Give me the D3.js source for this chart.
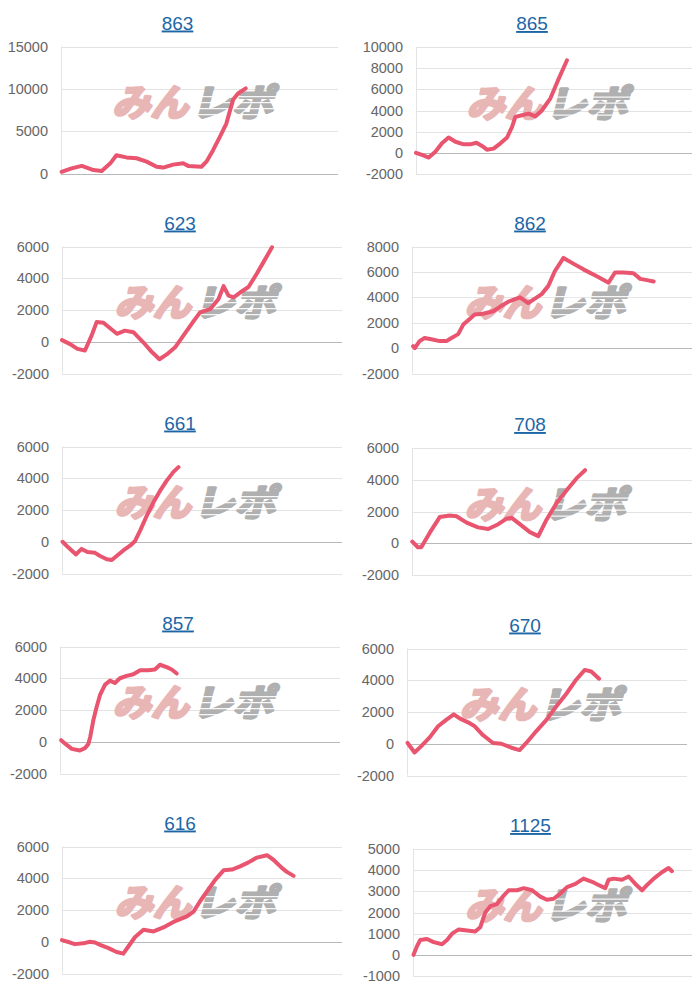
<!DOCTYPE html>
<html>
<head>
<meta charset="utf-8">
<script src="https://cdn.jsdelivr.net/npm/d3@7"></script>
<style>
  html, body { margin: 0; padding: 0; background: #fff; }
  svg { display: block; }
</style>
</head>
<body>
<div id="chart"></div>
<script>
// ---- Data (x = % of the day's slot range, y = difference in medals) ----
const titles = ["863", "865", "623", "862", "661", "708", "857", "670", "616", "1125"];

const s863 = [[0.2,200],[3.8,600],[7.5,900],[10,600],[11.7,400],[14.7,300],[17.8,1200],[20,2150],[23.6,1900],[27.3,1800],[30.9,1400],[34.5,800],[36.9,700],[40.5,1050],[44.1,1200],[45.9,900],[50.7,800],[52.5,1400],[54.9,2750],[57.3,4300],[59.7,5900],[62.1,8700],[63.9,9450],[66.7,10050]];
const s865 = [[0,0],[2.2,-200],[4.6,-450],[7,100],[9.4,900],[11.8,1450],[14.3,1050],[17.3,800],[19.7,800],[21.9,950],[23.9,650],[25.7,300],[28.1,400],[30.6,900],[33,1450],[34.8,2450],[36,3400],[38.4,3550],[40.8,3700],[43.2,3450],[45.6,4000],[48.7,5150],[51.7,7000],[54.7,8750]];
const s623 = [[0,100],[2.9,-150],[5.5,-450],[8.2,-550],[10.6,400],[12.4,1250],[14.8,1200],[17.2,850],[19.6,500],[22.5,700],[25.5,600],[29.1,-50],[32.1,-650],[34.8,-1100],[37.4,-800],[40.4,-350],[43.4,400],[47,1300],[49.3,1850],[52.9,2050],[55.9,2700],[57.7,3500],[59.5,2900],[61.3,2800],[63.6,3100],[66.6,3450],[69.6,4300],[71.9,5000],[75,5950]];
const s862 = [[0.4,150],[1,0],[2.7,550],[4.5,800],[6.9,700],[9.9,550],[12.3,550],[14.1,800],[16.5,1100],[18.3,1850],[20.6,2300],[22.4,2650],[25.4,2700],[29,2900],[31.4,3250],[34.4,3650],[36.8,3850],[38.6,4000],[41.5,3550],[43.9,3900],[46.3,4250],[48.7,4900],[51,6050],[54.1,7100],[57.6,6650],[61.2,6200],[66,5650],[70.2,5150],[72.5,5950],[75.5,5950],[79.1,5900],[81.5,5450],[83.9,5350],[86.3,5250]];
const s661 = [[0.2,0],[2.2,-350],[5,-800],[7,-450],[9.1,-650],[11.8,-700],[13.6,-900],[16,-1100],[17.8,-1150],[19.5,-900],[21.9,-550],[24.3,-250],[26.1,50],[27.9,700],[30.3,1650],[32.7,2500],[35,3200],[37.4,3850],[39.8,4400],[41.6,4700]];
const s708 = [[0.1,100],[2.1,-250],[3.3,-250],[6.3,650],[9.9,1650],[13.5,1750],[15.9,1700],[19.5,1300],[23.6,1000],[27.2,900],[30.8,1200],[33.8,1550],[35.6,1600],[38.5,1200],[42.1,700],[45.1,450],[48.1,1500],[51.7,2550],[55.3,3350],[58.8,4100],[61.8,4600]];
const s857 = [[0.4,100],[2.4,-200],[4.2,-450],[7.1,-550],[8.9,-400],[10.1,-150],[10.8,300],[11.9,1350],[13.1,2200],[14.3,2950],[16.1,3600],[17.9,3850],[19.6,3700],[21.4,4000],[23.8,4150],[26.2,4250],[28.6,4500],[31.5,4500],[33.9,4550],[35.7,4850],[38.1,4700],[39.9,4550],[41.7,4300]];
const s670 = [[0.2,50],[2.7,-550],[5.1,-150],[8.1,400],[11.1,1100],[14,1500],[16.7,1850],[18.8,1600],[21.8,1350],[24.2,1100],[27.1,550],[30.7,50],[33.7,0],[37.3,-250],[40.2,-400],[42.6,50],[46.2,800],[49.8,1500],[53.3,2350],[56.9,3150],[60.5,4050],[63.5,4650],[65.8,4550],[68.6,4100]];
const s616 = [[0,100],[2.9,-50],[4.6,-150],[7.6,-100],[10,0],[11.8,-50],[13.6,-200],[16.6,-400],[19.5,-650],[21.9,-750],[23.7,-300],[26.1,300],[29.1,750],[32.7,650],[36.2,900],[39.8,1250],[44.6,1600],[47,1900],[49.3,2550],[51.7,3150],[54.7,3900],[57.7,4500],[60.7,4550],[63.6,4750],[66.6,5000],[69.6,5300],[73.2,5450],[75.6,5150],[78.5,4650],[80.3,4400],[82.7,4150]];
const s1125 = [[0.2,0],[1.4,400],[2.6,700],[5,750],[7.4,600],[10.4,500],[12.2,700],[14,1000],[16.4,1200],[19.4,1150],[22.3,1100],[24.1,1300],[25.9,2000],[27.7,2300],[30.1,2400],[32.5,2800],[34.3,3050],[37.3,3050],[39.7,3150],[42.7,3050],[45.6,2750],[48,2600],[50.4,2650],[52.8,2900],[55.2,3200],[58.2,3350],[61.1,3600],[64.2,3450],[66.5,3300],[68.9,3150],[70.1,3550],[71.9,3600],[74.9,3550],[77.3,3700],[79.7,3350],[82.1,3050],[83.9,3300],[86.3,3600],[89.2,3900],[91.6,4100],[92.8,3950]];

const seriesList = [s863, s865, s623, s862, s661, s708, s857, s670, s616, s1125];

// Y-axis tick definitions
const yMins  = [0,     -2000, -2000, -2000, -2000, -2000, -2000, -2000, -2000, -1000];
const yMaxs  = [15000, 10000, 6000,  8000,  6000,  6000,  6000,  6000,  6000,  5000];
const ySteps = [5000,  2000,  2000,  2000,  2000,  2000,  2000,  2000,  2000,  1000];

const watermarkLeft = "みん";
const watermarkRight = "レポ";

// ---- Layout ----
const W = 700, H = 1000;
const plotLefts  = [61, 416, 62, 412, 62, 412, 60, 407, 62, 413];
const plotRights = [338, 692, 342, 692, 342, 692, 340, 687, 342, 692];
const rowDy      = [0, 0.5, 0, 0, 0, 1.5, 0, 2, 0, 2.5];

const svg = d3.select("#chart").append("svg")
  .attr("width", W).attr("height", H);

const lineColor = "#e9546f";

titles.forEach((t, i) => {
  const row = Math.floor(i / 2);
  const top = row * 200 + rowDy[i];
  const L = plotLefts[i], R = plotRights[i];
  const yTop = top + 46.5, yBot = top + 173.5;
  const g = svg.append("g");

  const x = d3.scaleLinear().domain([0, 100]).range([L, R]);
  const y = d3.scaleLinear().domain([yMins[i], yMaxs[i]]).range([yBot, yTop]);
  const ticks = d3.range(yMins[i], yMaxs[i] + ySteps[i] / 2, ySteps[i]);

  // title
  const tx = (L + R) / 2 - 22;
  g.append("text")
    .attr("x", tx).attr("y", top + 29.5)
    .attr("text-anchor", "middle")
    .attr("font-family", "Liberation Sans, Arial, sans-serif")
    .attr("font-size", 19)
    .attr("fill", "#1d67a6")
    .attr("text-decoration", "underline")
    .text(t);

  // gridlines
  g.append("g").selectAll("line").data(ticks).join("line")
    .attr("x1", L).attr("x2", R)
    .attr("y1", d => Math.round(y(d)) + 0.5).attr("y2", d => Math.round(y(d)) + 0.5)
    .attr("stroke", d => d === 0 ? "#b8b8b8" : "#e3e3e3")
    .attr("stroke-width", 1);
  g.append("line")
    .attr("x1", Math.round(L) + 0.5).attr("x2", Math.round(L) + 0.5)
    .attr("y1", yTop).attr("y2", yBot)
    .attr("stroke", "#e3e3e3");

  // y axis labels (via d3 axis)
  const axis = d3.axisLeft(y).tickValues(ticks).tickSize(0).tickPadding(13)
    .tickFormat(d => String(d));
  const ag = g.append("g").attr("transform", `translate(${L},0)`).call(axis);
  ag.select(".domain").remove();
  ag.selectAll("text")
    .attr("font-family", "Liberation Sans, Arial, sans-serif")
    .attr("font-size", 14.5)
    .attr("fill", "#666");

  // watermark
  const wx = tx + 18, wy = top + 103;
  const wm = g.append("g").attr("transform", `translate(${wx},${wy}) skewX(-14)`);
  wm.append("text")
    .attr("x", -4).attr("y", 13)
    .attr("text-anchor", "end")
    .attr("font-family", "Noto Sans CJK JP, sans-serif")
    .attr("font-weight", 700)
    .attr("font-size", 37)
    .attr("textLength", 76)
    .attr("lengthAdjust", "spacingAndGlyphs")
    .attr("fill", "#e9b6b6")
    .attr("stroke", "#e9b6b6")
    .attr("stroke-width", 3)
    .attr("stroke-linejoin", "round")
    .text(watermarkLeft);
  wm.append("text")
    .attr("x", -1).attr("y", 13)
    .attr("text-anchor", "start")
    .attr("font-family", "Noto Sans CJK JP, sans-serif")
    .attr("font-weight", 700)
    .attr("font-size", 37)
    .attr("textLength", 82)
    .attr("lengthAdjust", "spacingAndGlyphs")
    .attr("fill", "#b0b0b0")
    .attr("stroke", "#b0b0b0")
    .attr("stroke-width", 3)
    .attr("stroke-linejoin", "round")
    .text(watermarkRight);
  // speed-line stripes over gray part
  [-7, -1, 5, 11].forEach(dy => {
    wm.append("rect")
      .attr("x", 2).attr("y", dy)
      .attr("width", 82).attr("height", 1.3)
      .attr("fill", "#fff").attr("opacity", 0.9);
  });

  // line
  const line = d3.line().x(d => x(d[0])).y(d => y(d[1])).curve(d3.curveLinear);
  g.append("path")
    .datum(seriesList[i])
    .attr("d", line)
    .attr("fill", "none")
    .attr("stroke", lineColor)
    .attr("stroke-width", 4)
    .attr("stroke-linejoin", "round")
    .attr("stroke-linecap", "round");
});
</script>
</body>
</html>
